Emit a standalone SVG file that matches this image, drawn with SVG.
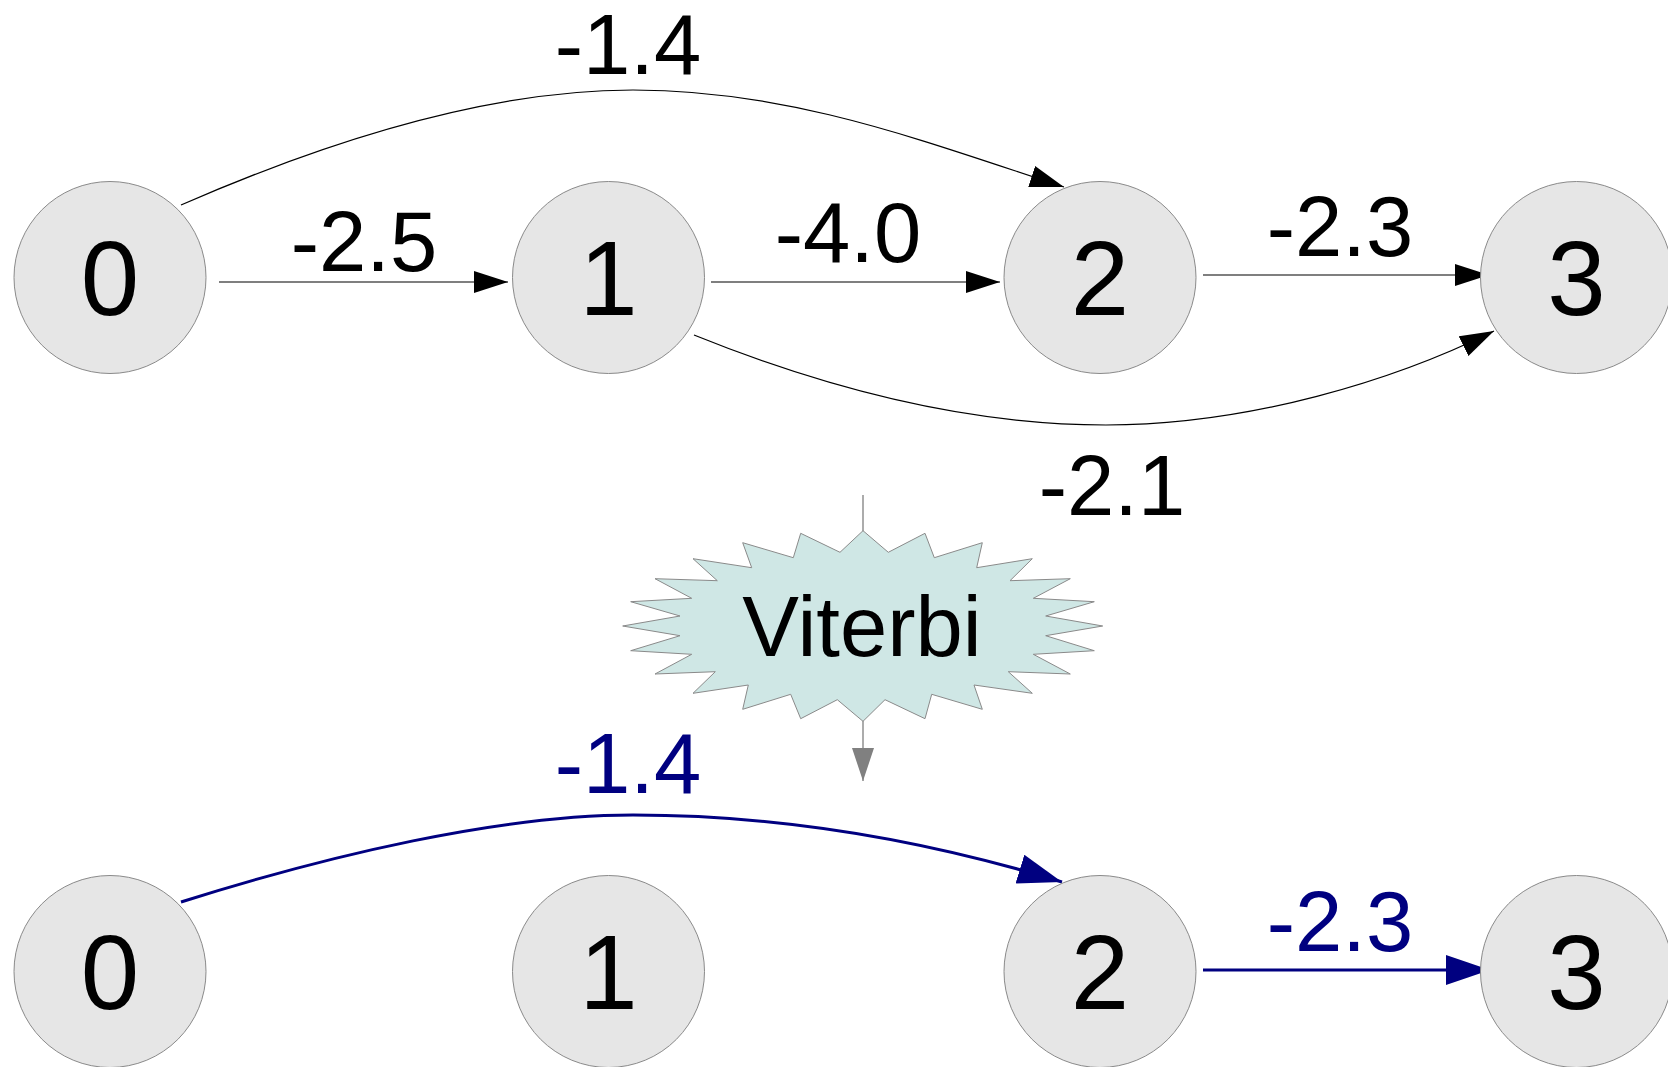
<svg xmlns="http://www.w3.org/2000/svg" width="1668" height="1067" viewBox="0 0 1668 1067">
<style>
.node circle{fill:#e6e6e6;stroke:#8a8a8a;stroke-width:1}
.nl{font-family:"Liberation Sans",Arial,sans-serif;font-size:105px;fill:#000;text-anchor:middle}
.el{font-family:"Liberation Sans",Arial,sans-serif;font-size:85px;fill:#000;text-anchor:middle}
.el.best{fill:#000080}
.e{fill:none;stroke:#000;stroke-width:1.2}
.e.best{stroke:#000080;stroke-width:3}
.g{stroke:#909090;stroke-width:1.5;fill:none}
</style>
<defs>
<marker id="ab" markerUnits="userSpaceOnUse" markerWidth="36" markerHeight="24" refX="34" refY="11" orient="auto" viewBox="0 0 36 24">
<path d="M0,0 L34,11 L0,22 Z" fill="#000"/>
</marker>
<marker id="an" markerUnits="userSpaceOnUse" markerWidth="46" markerHeight="32" refX="44" refY="15" orient="auto" viewBox="0 0 46 32">
<path d="M0,0 L44,15 L0,30 Z" fill="#000080"/>
</marker>
<marker id="ag" markerUnits="userSpaceOnUse" markerWidth="36" markerHeight="24" refX="33" refY="11" orient="auto" viewBox="0 0 36 24">
<path d="M0,0 L33,11 L0,22 Z" fill="#808080"/>
</marker>
</defs>

<g id="connectors">
<path class="e" d="M181,205 C330,140 490,90 633,90 C790,90 920,140 1064,187" marker-end="url(#ab)"/>
<path class="e" d="M219,282 L508,282" marker-end="url(#ab)"/>
<path class="e" d="M711,282 L1000,282" marker-end="url(#ab)"/>
<path class="e" d="M1203,275 L1489,275" marker-end="url(#ab)"/>
<path class="e" d="M694,335 C830,390 970,425 1106,425 C1250,425 1395,380 1494,331" marker-end="url(#ab)"/>
<path class="e best" d="M181,902 C330,855 500,815 633,815 C780,815 925,840 1062,882" marker-end="url(#an)"/>
<path class="e best" d="M1203,970 L1490,970" marker-end="url(#an)"/>
<path class="g" d="M863,495 L863,531"/>
<path class="g" d="M863,721 L863,781" marker-end="url(#ag)"/>
</g>

<g id="edge-labels">
<text class="el" x="628" y="74">-1.4</text>
<text class="el" x="364" y="271">-2.5</text>
<text class="el" x="848" y="262">-4.0</text>
<text class="el" x="1340" y="256">-2.3</text>
<text class="el" x="1112" y="515">-2.1</text>
<text class="el best" x="628" y="793">-1.4</text>
<text class="el best" x="1340" y="951">-2.3</text>
</g>

<g id="n0" class="node"><circle cx="110" cy="277.5" r="96"/><text class="nl" x="110" y="315">0</text></g>
<g id="n1" class="node"><circle cx="608.5" cy="277.5" r="96"/><text class="nl" x="608.5" y="315">1</text></g>
<g id="n2" class="node"><circle cx="1100" cy="277.5" r="96"/><text class="nl" x="1100" y="315">2</text></g>
<g id="n3" class="node"><circle cx="1576.5" cy="277.5" r="96"/><text class="nl" x="1576.5" y="315">3</text></g>

<g id="viterbi">
<polygon points="863,530.7 888.3,552.3 925,533.3 934.3,557.7 982.3,542.7 976.7,567.7 1032.3,558.7 1010,580.7 1070.3,578.7 1033.3,598.3 1094.3,601.7 1045.7,616 1102.7,626 1045.7,635.7 1094.3,650.7 1033.3,654.3 1070.3,674 1008.3,671.7 1032.3,693.3 974,685 982.3,709.3 931.7,694.3 925,718.7 885,699.7 863,721.3 837.3,699.7 800.7,718.7 790.7,694.3 742.7,709.3 748.3,685 693,693.3 715.3,671.7 655,674 691.7,654.3 630.7,650.7 680,635.7 622.7,626 680,616 630.7,601.7 691.7,598.3 655,578.7 717.3,580.7 693,558.7 751.7,567.7 742.7,542.7 793.3,557.7 800.7,533.3 840,552.3" fill="#cfe7e5" stroke="#8a8a8a" stroke-width="1"/>
<text x="862" y="656" font-family="'Liberation Sans',Arial,sans-serif" font-size="85" text-anchor="middle" fill="#000">Viterbi</text>
</g>

<g id="m0" class="node"><circle cx="110" cy="971.5" r="96"/><text class="nl" x="110" y="1009">0</text></g>
<g id="m1" class="node"><circle cx="608.5" cy="971.5" r="96"/><text class="nl" x="608.5" y="1009">1</text></g>
<g id="m2" class="node"><circle cx="1100" cy="971.5" r="96"/><text class="nl" x="1100" y="1009">2</text></g>
<g id="m3" class="node"><circle cx="1576.5" cy="971.5" r="96"/><text class="nl" x="1576.5" y="1009">3</text></g>
</svg>
